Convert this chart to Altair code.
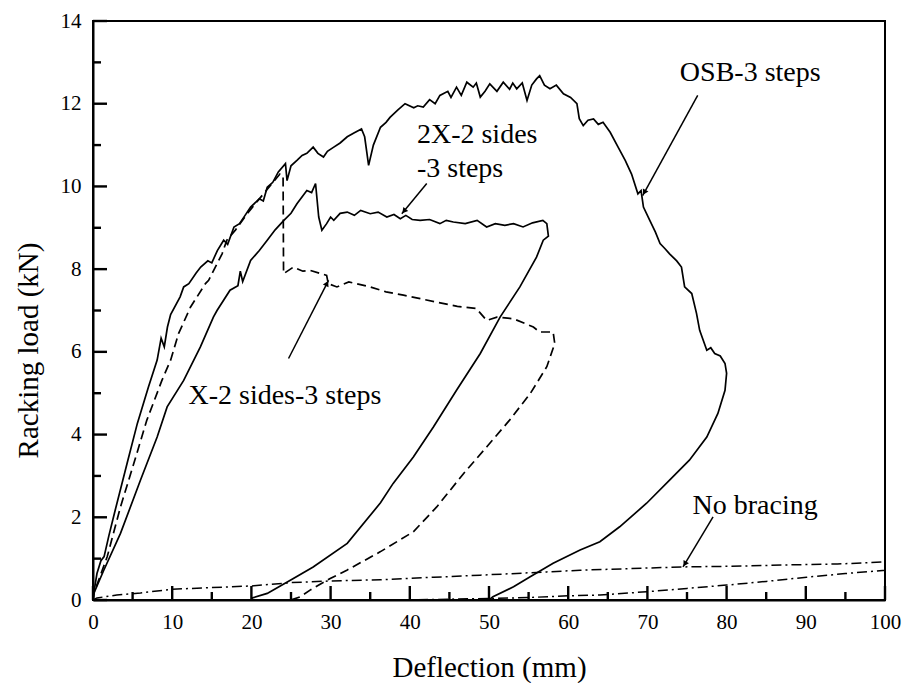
import math
import altair as alt
import pandas as pd

# ---------------- data ----------------
osb_x = [0, 0.1, 0.5, 1.0, 1.4, 2.0, 2.8, 4.3, 5.6, 7.0, 8.1, 8.6, 9.0, 9.4, 9.8, 11.0, 11.45, 12.1,
         13.0, 13.6, 14.5, 15.0, 15.7, 16.5, 17.0, 17.8, 18.5, 19.2, 19.9, 21.0, 21.5, 22.0, 22.7, 23.4,
         24.3, 24.5, 25.0, 25.75, 26.4, 27.0, 27.8, 28.4, 29.1, 29.6, 30.4, 31.2, 32.1, 33.0, 33.9, 34.3,
         34.8, 35.4, 36.3, 37.0, 37.5, 38.5, 39.4, 40.5, 41.0, 41.7, 42.5, 43.2, 43.8, 44.8, 45.2, 45.9,
         46.5, 47.2, 48.0, 48.4, 48.9, 49.5, 50.1, 51.0, 51.8, 52.6, 53.0, 53.5, 54.2, 54.8, 55.4, 56.0,
         56.4, 57.0, 57.7, 58.5, 59.4, 60.3, 61.1, 61.4, 61.9, 62.5, 63.2, 63.8, 64.4, 65.3, 66.3, 67.2,
         68.0, 68.8, 69.2, 69.5, 70.3, 71.0, 71.6, 72.2, 72.8, 73.7, 74.3, 74.7, 75.6, 76.2, 76.6, 77.5,
         78.0, 78.5, 79.2, 79.8, 80.0,
         79.8, 78.9, 77.5, 75.3, 72.8, 69.9, 66.5, 64.0, 61.5, 58.1, 55.2, 53.1, 50.5, 50.0]
osb_y = [0, 0.17, 0.64, 0.95, 1.05, 1.55, 2.17, 3.3, 4.27, 5.15, 5.8, 6.33, 6.12, 6.6, 6.9, 7.33, 7.57, 7.65,
         7.9, 8.05, 8.2, 8.15, 8.45, 8.7, 8.6, 9.02, 9.1, 9.3, 9.5, 9.7, 9.65, 9.98, 10.1, 10.35,
         10.55, 10.14, 10.5, 10.63, 10.75, 10.8, 10.95, 10.8, 10.71, 10.85, 10.95, 11.05, 11.2, 11.3, 11.39, 11.2,
         10.51, 11.0, 11.43, 11.55, 11.67, 11.85, 12.0, 11.9, 11.95, 11.92, 12.1, 12.0, 12.2, 12.3, 12.15, 12.4,
         12.2, 12.52, 12.4, 12.5, 12.16, 12.3, 12.48, 12.3, 12.52, 12.35, 12.5, 12.36, 12.5, 12.08, 12.45, 12.6,
         12.68, 12.45, 12.36, 12.45, 12.24, 12.15, 12.0, 11.64, 11.47, 11.6, 11.63, 11.5, 11.55, 11.31, 10.95, 10.63,
         10.3, 9.82, 9.9, 9.5, 9.18, 8.9, 8.62, 8.5, 8.37, 8.2, 8.05, 7.57, 7.41, 6.93, 6.52, 6.04,
         6.1, 5.96, 5.9, 5.72, 5.48,
         5.07, 4.51, 3.94, 3.38, 2.9, 2.34, 1.77, 1.41, 1.21, 0.89, 0.56, 0.32, 0.08, 0.0]

x2_x = [0, 0.1, 1.36, 3.47, 6.0, 8.1, 9.36, 11.45, 13.56, 15.2, 15.66, 17.3, 18.3, 18.6, 18.9, 19.9, 21.0,
        22.0, 23.0, 24.1, 25.0, 25.75, 27.0, 27.6, 28.1, 28.5, 28.9, 29.5, 30.0, 30.4, 31.2, 32.1, 33.0,
        33.8, 35.0, 36.0, 37.1, 38.0, 38.8, 39.5, 40.3, 41.3, 42.5, 43.8, 44.6, 45.5, 47.0, 48.5, 49.7,
        50.8, 52.0, 53.1, 54.3, 55.5, 56.8, 57.3,
        57.5, 56.85, 56.0, 53.9, 51.4, 48.9, 45.9, 43.0, 40.45, 37.9, 36.3, 32.1, 27.8, 25.3, 22.0, 20.1, 20.0]
x2_y = [0, 0.16, 0.72, 1.61, 2.9, 3.94, 4.67, 5.31, 6.12, 6.84, 7.0, 7.49, 7.6, 7.95, 7.7, 8.21, 8.45,
        8.7, 8.95, 9.18, 9.35, 9.58, 9.9, 9.85, 10.07, 9.26, 8.94, 9.1, 9.26, 9.18, 9.35, 9.38, 9.3,
        9.42, 9.34, 9.38, 9.26, 9.32, 9.22, 9.3, 9.2, 9.18, 9.2, 9.1, 9.18, 9.14, 9.1, 9.18, 9.02,
        9.1, 9.06, 9.1, 9.02, 9.12, 9.18, 9.1,
        8.8, 8.7, 8.29, 7.57, 6.84, 5.96, 5.07, 4.19, 3.46, 2.82, 2.35, 1.37, 0.8, 0.52, 0.16, 0.05, 0.0]

x_x = [0, 0.1, 1.8, 3.47, 5.15, 6.8, 8.7, 9.8, 10.8, 12.3, 14.2, 14.6, 16.3, 16.9, 18.0, 19.5, 21.0, 22.3,
       23.6, 24.0, 24.06, 25.3, 26.5, 27.4, 29.5, 29.7, 30.8, 32.3, 35.0, 37.0, 39.2, 41.0, 43.4, 46.0,
       48.4, 49.7, 51.0, 53.1, 55.6, 56.4, 58.1, 58.3,
       57.3, 55.2, 52.6, 49.7, 46.8, 43.4, 40.45, 36.3, 32.05, 29.95, 27.5, 26.2, 25.0]
x_y = [0, 0.16, 1.05, 2.25, 3.3, 4.35, 5.31, 5.8, 6.44, 7.08, 7.65, 7.73, 8.37, 8.7, 8.95, 9.35, 9.7, 10.0,
       10.3, 10.25, 7.89, 8.05, 7.95, 7.97, 7.85, 7.65, 7.57, 7.69, 7.57, 7.45, 7.37, 7.3, 7.2, 7.1,
       7.05, 6.76, 6.84, 6.8, 6.6, 6.48, 6.48, 6.2,
       5.64, 4.99, 4.35, 3.7, 3.06, 2.25, 1.65, 1.17, 0.72, 0.52, 0.25, 0.08, 0.0]

nb_x = [0, 0.5, 3, 6, 10, 15, 20, 25, 30, 36.3, 43, 48.9, 57.3, 61.5, 68, 74.5, 82, 88, 94, 100,
        100, 95, 90.1, 85, 80, 75, 69.9, 64, 60, 55, 51, 45, 40]
nb_y = [0, 0.05, 0.12, 0.17, 0.26, 0.3, 0.34, 0.42, 0.46, 0.49, 0.55, 0.6, 0.68, 0.72, 0.76, 0.8, 0.82, 0.85, 0.87, 0.92,
        0.72, 0.64, 0.55, 0.45, 0.36, 0.28, 0.2, 0.12, 0.1, 0.06, 0.04, 0.02, 0.0]

x_ticks_major = [0, 10, 20, 30, 40, 50, 60, 70, 80, 90, 100]
x_ticks_minor = [5, 15, 25, 35, 45, 55, 65, 75, 85, 95]
y_ticks_major = [0, 2, 4, 6, 8, 10, 12, 14]
y_ticks_minor = [1, 3, 5, 7, 9, 11, 13]

label_text = ["OSB-3 steps", "2X-2 sides", "-3 steps", "X-2 sides-3 steps", "No bracing"]
label_x = [74.1, 40.9, 40.9, 12.05, 75.7]
label_y = [12.56, 11.05, 10.22, 4.73, 2.08]

arrow_x1 = [76.35, 42.14, 24.69, 78.29]
arrow_y1 = [12.2, 10.07, 5.84, 2.01]
arrow_x2 = [69.4, 38.99, 29.74, 74.5]
arrow_y2 = [9.78, 9.34, 7.73, 0.80]

# ---------------- layout ----------------
W, H = 792, 579
FONT = "Liberation Serif"
PX_X = W / 100.0   # pixels per mm
PX_Y = H / 14.0    # pixels per kN
MAJ, MIN = 14, 8   # tick lengths in px


def series_df(name, xs, ys):
    return pd.DataFrame({"x": xs, "y": ys, "s": name, "i": range(len(xs))})


xs = alt.Scale(domain=[0, 100], nice=False, zero=False)
ys = alt.Scale(domain=[0, 14], nice=False, zero=False)

solid_df = pd.concat([series_df("OSB", osb_x, osb_y), series_df("2X", x2_x, x2_y)])
dash_df = series_df("X", x_x, x_y)
dd_df = series_df("NB", nb_x, nb_y)

xenc = alt.X("x:Q", scale=xs, axis=alt.Axis(
    values=x_ticks_major, title="Deflection (mm)", ticks=False, grid=False, labelFlush=False,
    domainColor="black", domainWidth=2, labelFont=FONT, labelFontSize=21, labelColor="black",
    labelPadding=11, titleFont=FONT, titleFontSize=29, titleFontWeight="normal", titleColor="black",
    titleY=67, titleBaseline="middle"))
yenc = alt.Y("y:Q", scale=ys, axis=alt.Axis(
    values=y_ticks_major, title="Racking load (kN)", ticks=False, grid=False, labelFlush=False,
    domainColor="black", domainWidth=2, labelFont=FONT, labelFontSize=21, labelColor="black",
    labelPadding=12, titleFont=FONT, titleFontSize=29, titleFontWeight="normal", titleColor="black",
    titleX=-65, titleY=329, titleAngle=270, titleBaseline="middle", titleAlign="center"))

solid = alt.Chart(solid_df).mark_line(color="black", strokeWidth=1.7).encode(
    x=xenc, y=yenc, detail="s:N", order="i:Q")
dashed = alt.Chart(dash_df).mark_line(color="black", strokeWidth=1.7, strokeDash=[9, 5]).encode(
    x=alt.X("x:Q", scale=xs), y=alt.Y("y:Q", scale=ys), order="i:Q")
dashdot = alt.Chart(dd_df).mark_line(color="black", strokeWidth=1.5, strokeDash=[10, 4, 2, 4]).encode(
    x=alt.X("x:Q", scale=xs), y=alt.Y("y:Q", scale=ys), order="i:Q")

# inward ticks, drawn as two-point line segments through the scales
tick_rows = []
k = 0
for vals, ln, horiz in ((x_ticks_major, MAJ, False), (x_ticks_minor, MIN, False),
                        (y_ticks_major, MAJ, True), (y_ticks_minor, MIN, True)):
    for t in vals:
        if horiz:
            tick_rows.append((k, 0, 0.0, t))
            tick_rows.append((k, 1, ln / PX_X, t))
        else:
            tick_rows.append((k, 0, t, 0.0))
            tick_rows.append((k, 1, t, ln / PX_Y))
        k += 1
tick_df = pd.DataFrame(tick_rows, columns=["tk", "to", "tx", "ty"])
ticks = alt.Chart(tick_df).mark_line(color="black", strokeWidth=2.4).encode(
    x=alt.X("tx:Q", scale=xs), y=alt.Y("ty:Q", scale=ys), detail="tk:N", order="to:Q")

# annotations
labels = alt.Chart(pd.DataFrame({"x": label_x, "y": label_y, "t": label_text})).mark_text(
    font=FONT, fontSize=28, color="black", align="left", baseline="alphabetic").encode(
    x=alt.X("x:Q", scale=xs), y=alt.Y("y:Q", scale=ys), text="t:N")

ang, hx, hy = [], [], []
for a, b, c, d in zip(arrow_x1, arrow_y1, arrow_x2, arrow_y2):
    dx = (c - a) * PX_X
    dy = -(d - b) * PX_Y
    L = math.hypot(dx, dy)
    ang.append(math.degrees(math.atan2(dx, -dy)) % 360)
    hx.append(c - (dx / L) * 3.5 / PX_X)
    hy.append(d + (dy / L) * 3.5 / PX_Y)
arr_df = pd.DataFrame({"x1": arrow_x1, "y1": arrow_y1, "x2": arrow_x2, "y2": arrow_y2,
                       "hx": hx, "hy": hy, "a": ang})
shafts = alt.Chart(arr_df).mark_rule(color="black", strokeWidth=1.5).encode(
    x=alt.X("x1:Q", scale=xs), y=alt.Y("y1:Q", scale=ys), x2="x2:Q", y2="y2:Q")
heads = alt.Chart(arr_df).mark_point(
    shape="triangle-up", filled=True, color="black", opacity=1, size=40, strokeWidth=0).encode(
    x=alt.X("hx:Q", scale=xs), y=alt.Y("hy:Q", scale=ys), angle=alt.Angle("a:Q", scale=None))

chart = alt.layer(solid, dashed, dashdot, shafts, heads, labels, ticks).properties(
    width=W, height=H,
    padding={"left": 93, "top": 21, "right": 22, "bottom": 83},
    autosize=alt.AutoSizeParams(type="none"),
    background="white",
).configure_view(stroke="black", strokeWidth=2)

chart.save("out.html", embed_options={"renderer": "svg", "actions": False})
